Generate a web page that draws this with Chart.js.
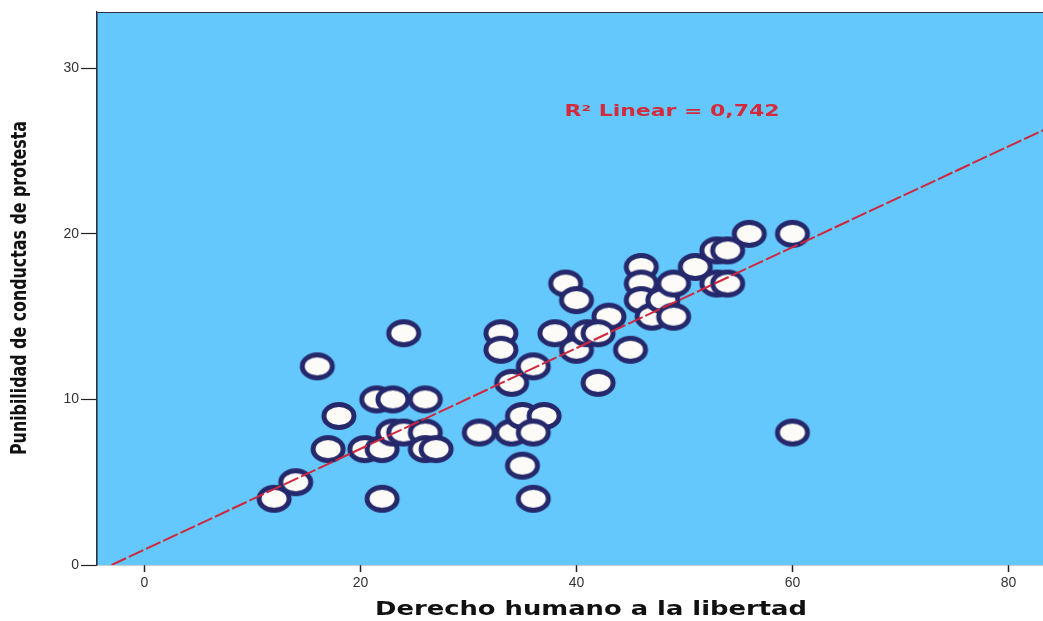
<!DOCTYPE html>
<html>
<head>
<meta charset="utf-8">
<title>Punibilidad vs derecho a la libertad</title>
<script src="https://cdn.jsdelivr.net/npm/chart.js@4.4.1/dist/chart.umd.min.js"></script>
<style>
  html, body { margin: 0; padding: 0; background: #ffffff; }
  #wrap { width: 1043px; height: 621px; position: relative; }
</style>
</head>
<body>
<div id="wrap"><canvas id="chart" width="1043" height="621"></canvas></div>
<script>
// scores per respondent
var libertad = [12, 14, 16, 17, 18, 20.4, 22, 22, 21.5, 23, 24, 26, 23, 24, 26, 26, 27,
                31, 33, 33, 34, 34, 35, 37, 36, 35, 36, 36, 38, 39, 40, 40, 41, 42, 43,
                42, 45, 46, 46, 46, 47, 48, 49, 49, 51, 53, 54, 53, 54, 56, 60, 60];
var punibilidad = [4, 5, 12, 7, 9, 7, 7, 4, 10, 10, 14, 10, 8, 8, 8, 7, 7,
                   8, 14, 13, 11, 8, 9, 9, 8, 6, 4, 12, 14, 17, 16, 13, 14, 11, 15,
                   14, 13, 18, 17, 16, 15, 16, 17, 15, 18, 19, 19, 17, 17, 20, 20, 8];

// linear fit, end points
var fitX = [-3.05, 84];
var fitY = [0, 26.5];
var r2Label = 'R\u00B2 Linear = 0,742';

var xTicks = [0, 20, 40, 60, 80];
var yTicks = [0, 10, 20, 30];

var xTitle = 'Derecho humano a la libertad';
var yTitle = 'Punibilidad de conductas de protesta';

// oval marker (the original export is a little stretched sideways)
function makeMarker() {
    var c = document.createElement('canvas');
    c.width = 40;
    c.height = 32;
    var g = c.getContext('2d');
    g.beginPath();
    g.ellipse(20, 16, 15, 11.5, 0, 0, Math.PI * 2);
    g.fillStyle = '#fdfbf8';
    g.fill();
    g.lineWidth = 5;
    g.strokeStyle = '#25286a';
    g.stroke();
    return c;
}

function drawFitted(ctx, text, cx, cy, font, width, color, rot) {
    ctx.save();
    ctx.translate(cx, cy);
    ctx.rotate(rot || 0);
    ctx.font = font;
    var w = ctx.measureText(text).width;
    ctx.scale(width / w, 1);
    ctx.fillStyle = color;
    ctx.textAlign = 'center';
    ctx.textBaseline = 'middle';
    ctx.fillText(text, 0, 0);
    ctx.restore();
}

var frame = {
    id: 'frame',
    beforeDatasetsDraw: function (chart) {
        var a = chart.chartArea, ctx = chart.ctx;
        ctx.save();
        ctx.fillStyle = '#64c8fc';
        ctx.fillRect(a.left, a.top, a.right - a.left, a.bottom - a.top);
        ctx.restore();
    },
    afterDraw: function (chart) {
        var a = chart.chartArea, ctx = chart.ctx;
        ctx.save();
        ctx.strokeStyle = '#2a3040';
        ctx.lineWidth = 1.2;
        ctx.beginPath();
        ctx.moveTo(a.left, a.bottom);
        ctx.lineTo(a.left, a.top + 0.5);
        ctx.lineTo(a.right, a.top + 0.5);
        ctx.stroke();
        ctx.restore();

        drawFitted(ctx, r2Label, 672, 112, 'bold 15px "DejaVu Sans"', 215, '#d42a3c');
        drawFitted(ctx, xTitle, 591, 610, 'bold 19px "DejaVu Sans"', 432, '#111111');
        drawFitted(ctx, yTitle, 21, 288, 'bold 21px "Liberation Sans Narrow", "DejaVu Sans Condensed", sans-serif',
                   334, '#111111', -Math.PI / 2);
    }
};

var points = libertad.map(function (v, i) { return {x: v, y: punibilidad[i]}; });
var fitLine = fitX.map(function (v, i) { return {x: v, y: fitY[i]}; });

new Chart(document.getElementById('chart').getContext('2d'), {
    type: 'scatter',
    data: {
        datasets: [
            {
                type: 'line',
                data: fitLine,
                borderColor: '#d0263e',
                borderWidth: 2,
                borderDash: [16, 3],
                pointRadius: 0,
                fill: false,
                order: 0
            },
            {
                data: points,
                pointStyle: makeMarker(),
                pointRadius: 16,
                pointHoverRadius: 16,
                order: 1
            }
        ]
    },
    plugins: [frame],
    options: {
        responsive: false,
        animation: false,
        events: [],
        layout: {
            autoPadding: false,
            padding: { top: 12, left: 0, right: 0, bottom: 0 }
        },
        plugins: {
            legend: { display: false },
            tooltip: { enabled: false }
        },
        scales: {
            x: {
                type: 'linear',
                min: -4.4,
                max: 83.2,
                afterBuildTicks: function (s) {
                    s.ticks = xTicks.map(function (v) { return {value: v}; });
                },
                afterFit: function (s) {
                    s.height = 56;
                    s.paddingLeft = 0;
                    s.paddingRight = 0;
                },
                grid: {
                    drawOnChartArea: false,
                    drawTicks: true,
                    tickLength: 7,
                    tickColor: '#222222',
                    tickWidth: 1.5
                },
                border: { display: true, color: '#2a3040', width: 1.2 },
                ticks: {
                    padding: 3,
                    color: '#333333',
                    font: { family: '"Liberation Sans", Arial, sans-serif', size: 14 }
                }
            },
            y: {
                type: 'linear',
                min: 0,
                max: 33.4,
                afterBuildTicks: function (s) {
                    s.ticks = yTicks.map(function (v) { return {value: v}; });
                },
                afterFit: function (s) {
                    s.width = 97;
                    s.paddingTop = 0;
                    s.paddingBottom = 0;
                },
                grid: {
                    drawOnChartArea: false,
                    drawTicks: true,
                    tickLength: 16,
                    tickColor: '#222222',
                    tickWidth: 1.2
                },
                border: { display: true, color: '#2a3040', width: 1.2 },
                ticks: {
                    padding: 2,
                    color: '#333333',
                    font: { family: '"Liberation Sans", Arial, sans-serif', size: 14 }
                }
            }
        }
    }
});
</script>
</body>
</html>
